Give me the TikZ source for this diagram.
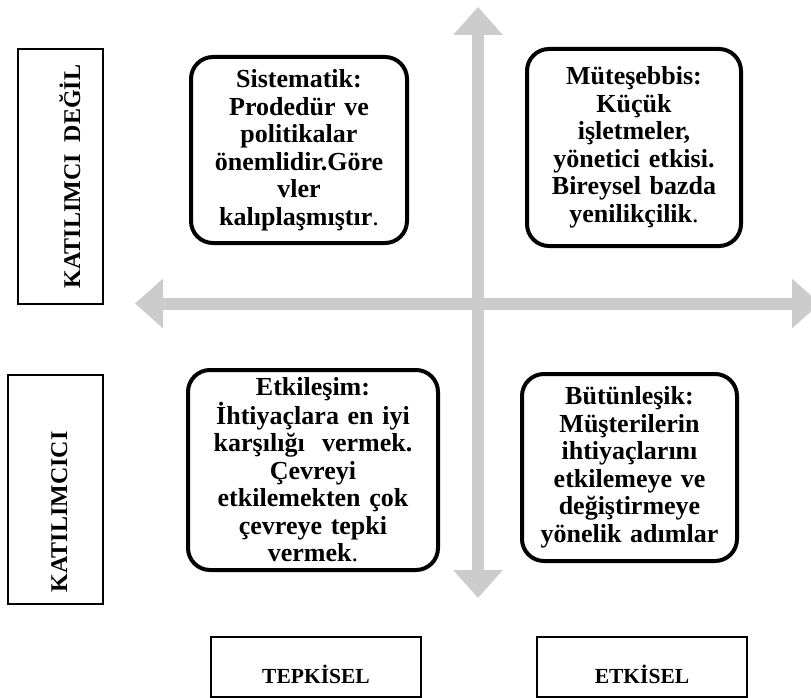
\documentclass[tikz,border=0pt]{standalone}
\usepackage{fontspec}
\setmainfont{Liberation Serif}
\usetikzlibrary{arrows.meta,positioning}

\begin{document}
\begin{tikzpicture}[x=1pt, y=-1pt,
    quad/.style={draw, line width=4pt, rounded corners=22pt, align=center, inner sep=0pt, font=\bfseries\fontsize{26}{27.5}\selectfont},
    axislabel/.style={draw, line width=1.5pt, inner sep=0pt, font=\bfseries\fontsize{21.5}{24}\selectfont},
    sidelabel/.style={axislabel, rotate=90, font=\bfseries\fontsize{24}{26}\selectfont},
    axis/.style={line width=12pt, draw=gray!40, >={Triangle[width=48pt,length=28pt]}, <->}]
    \useasboundingbox (0,0) rectangle (811,698);
    \clip (0,0) rectangle (811,698);

    \coordinate (top) at (478,7);
    \coordinate (bottom) at (478,598);
    \coordinate (left) at (135,303.5);
    \coordinate (right) at (820,303.5);
    \draw[axis] (bottom) -- (top);
    \draw[axis] (left) -- (right);

    \node[quad, minimum width=216pt, minimum height=186pt, text width=206pt] (sistematik) at (299,150) {Sistematik:\\ Prodedür ve\\ politikalar\\ önemlidir.Göre\\ vler\\ kalıplaşmıştır{\mdseries.}};
    \node[quad, minimum width=214pt, minimum height=197pt, text width=204pt] (mutesebbis) at (634,147.5) {Müteşebbis:\\ Küçük\\ işletmeler,\\ yönetici etkisi.\\ Bireysel bazda\\ yenilikçilik{\mdseries.}};
    \node[quad, minimum width=250pt, minimum height=200pt, text width=240pt] (etkilesim) at (313,470) {Etkileşim:\\ İhtiyaçlara en iyi\\ karşılığı~~vermek.\\ Çevreyi\\ etkilemekten çok\\ çevreye tepki\\ vermek{\mdseries.}};
    \node[quad, minimum width=215pt, minimum height=187pt, text width=205pt] (butunlesik) at (629.5,467.5) {Bütünleşik:\\ Müşterilerin\\ ihtiyaçlarını\\ etkilemeye ve\\ değiştirmeye\\ yönelik adımlar};

    \node[sidelabel, minimum width=255pt, text height=62pt, text depth=23pt] (katilimcidegil) at (60.5,176.5) {KATILIMCI~~DEĞİL};
    \node[sidelabel, minimum width=229pt, text height=59pt, text depth=36pt] (katilimci) at (55.5,489.5) {KATILIMCICI\hspace*{45pt}};
    \node[axislabel, minimum width=210pt, text height=46pt, text depth=14pt] (tepkisel) at (316,667) {TEPKİSEL};
    \node[axislabel, minimum width=210pt, text height=46pt, text depth=14pt] (etkisel) at (642,667) {ETKİSEL};
\end{tikzpicture}
\end{document}
